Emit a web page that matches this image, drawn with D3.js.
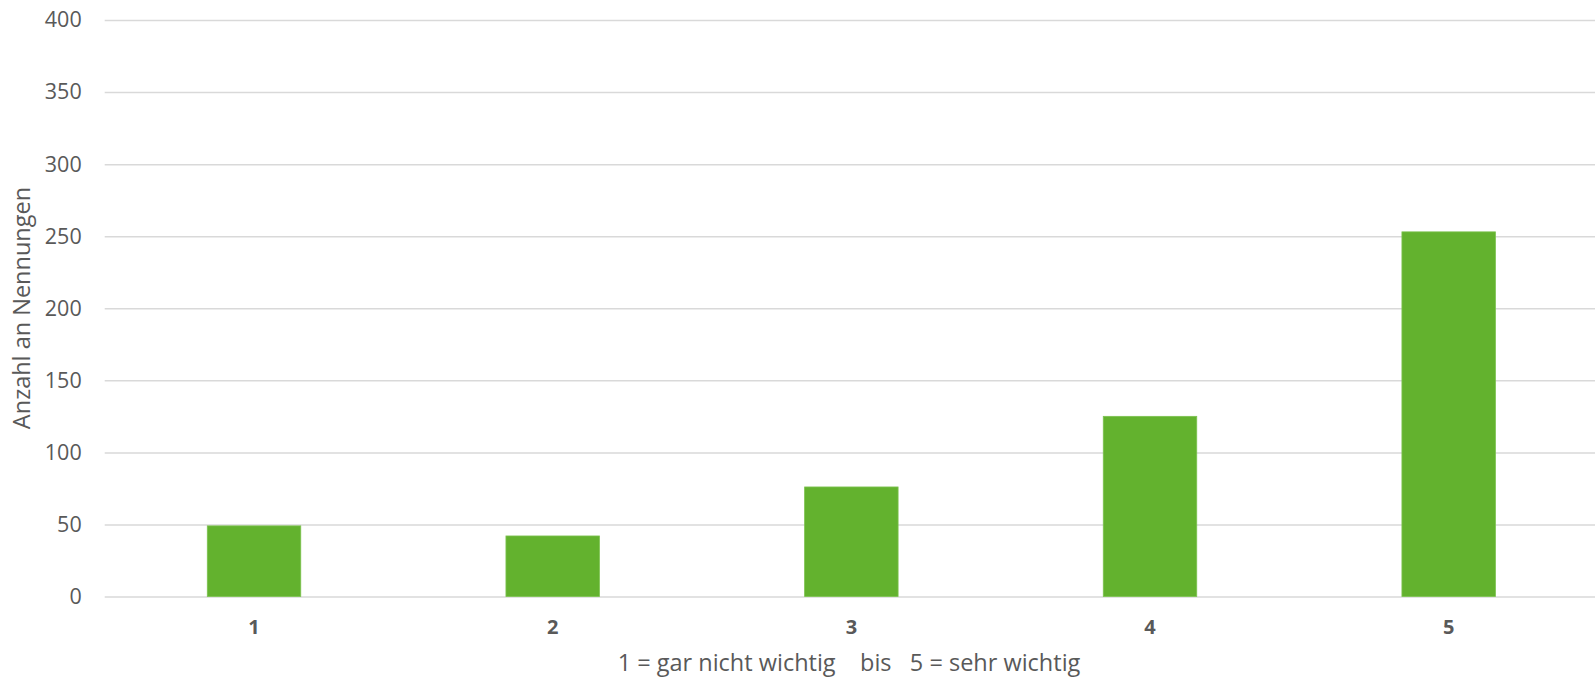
<!DOCTYPE html>
<html>
<head>
<meta charset="utf-8">
<script src="https://cdn.jsdelivr.net/npm/d3@7"></script>
<style>
  html, body { margin: 0; padding: 0; background: #fff; }
  svg { display: block; }
  text { font-family: "Open Sans", "Noto Sans", sans-serif; }
</style>
</head>
<body>
<svg id="chart" width="1595" height="680"></svg>
<script>
const categories = ["1", "2", "3", "4", "5"];
const values = [49, 42, 76, 125, 253];
const yTicks = [0, 50, 100, 150, 200, 250, 300, 350, 400];
const yTitle = "Anzahl an Nennungen";
const xTitle = "1 = gar nicht wichtig    bis   5 = sehr wichtig";

(function () {
const svg = d3.select("#chart");
const mLeft = 104.7, mRight = 1598, mTop = 20, mBottom = 596.5;

const x = d3.scaleBand().domain(categories).range([mLeft, mRight])
  .paddingInner(0.687).paddingOuter(0.3435);
const y = d3.scaleLinear().domain([0, 400]).range([mBottom, mTop]);

// gridlines
const yAxis = d3.axisLeft(y).tickValues(yTicks).tickSize(-(mRight - mLeft)).tickPadding(23);
const gy = svg.append("g").attr("transform", `translate(${mLeft},0)`).call(yAxis);
gy.select(".domain").remove();
gy.selectAll(".tick line").attr("stroke", "#d9d9d9").attr("stroke-width", 1.5);
gy.selectAll(".tick text").attr("fill", "#595959").style("font-size", "21.5px")
  .style("font-family", "'Open Sans', sans-serif");

// bars
svg.append("g").selectAll("rect").data(values).join("rect")
  .attr("x", (d, i) => x(categories[i]))
  .attr("width", x.bandwidth())
  .attr("y", d => y(d))
  .attr("height", d => y(0) - y(d))
  .attr("fill", "#63b22e")
  .attr("stroke", "#7cc24f")
  .attr("stroke-width", 0.8);

// x axis labels
const xAxis = d3.axisBottom(x).tickSize(0).tickPadding(23);
const gx = svg.append("g").attr("transform", `translate(0,${mBottom})`).call(xAxis);
gx.select(".domain").remove();
gx.selectAll(".tick text").attr("fill", "#595959").style("font-size", "20px")
  .style("font-weight", "bold").style("font-family", "'Open Sans', sans-serif");

// titles
svg.append("text")
  .attr("x", 849).attr("y", 671)
  .attr("text-anchor", "middle")
  .attr("fill", "#595959")
  .style("font-size", "23.5px")
  .style("white-space", "pre")
  .attr("xml:space", "preserve")
  .text(xTitle);

svg.append("text")
  .attr("transform", "translate(30,308) rotate(-90)")
  .attr("text-anchor", "middle")
  .attr("fill", "#595959")
  .style("font-size", "23.5px")
  .text(yTitle);
})();
</script>
</body>
</html>
